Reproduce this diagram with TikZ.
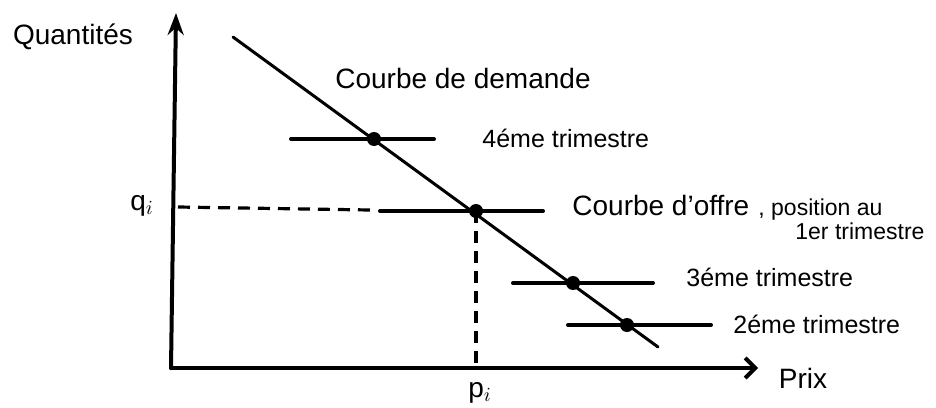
\documentclass[tikz,border=0pt]{standalone}
\usepackage{fontspec}
\setmainfont{Liberation Sans}
\usetikzlibrary{arrows.meta}
\tikzset{
  axis/.style={line width=2pt,line cap=round},
  offre/.style={line width=2pt,line cap=round},
  demande/.style={line width=1.5pt,line cap=round},
  guide/.style={line width=1.6pt,dash pattern=on 6pt off 4pt},
  bigtxt/.style={font=\fontsize{14}{16}\selectfont,inner sep=0pt},
  trimtxt/.style={font=\fontsize{12.5}{14}\selectfont,inner sep=0pt,anchor=west},
  smalltxt/.style={font=\fontsize{11.5}{13}\selectfont,inner sep=0pt,anchor=west},
}
\begin{document}
\begin{tikzpicture}[x=.5pt,y=-.5pt]
\useasboundingbox (0,0) rectangle (936,407);
% axes
\coordinate (O) at (171,368);
\coordinate (ytop) at (176,13);
\coordinate (xend) at (758,368);
\draw[axis,-{Stealth[length=11pt,width=8pt]}] (O) -- (ytop);
\draw[axis,-{Straight Barb[length=5pt,width=10pt]}] (O) -- (xend);
% demand curve
\coordinate (dtop) at (233,37);
\coordinate (dbot) at (658,347);
\draw[demande] (dtop) -- (dbot);
% supply positions, one per quarter
\coordinate (e4) at (374,139);
\coordinate (e1) at (476,211);
\coordinate (e3) at (573,283);
\coordinate (e2) at (627,325);
\draw[offre] (291,139) -- (434,139);
\draw[offre] (380,211) -- (543,211);
\draw[offre] (513,283) -- (653,283);
\draw[offre] (568,325) -- (711,325);
\foreach \p in {e4,e1,e3,e2}
  \fill (\p) circle[radius=3.5pt];
% equilibrium guides
\coordinate (qi) at (178,207);
\coordinate (qend) at (370,210);
\coordinate (pi) at (476,368);
\draw[guide] (qi) -- (qend);
\draw[guide] (e1) -- (pi);
% labels
\node[bigtxt] (quant) at (73,37) {Quantités};
\node[bigtxt] (qlab) at (142,206) {q$_i$};
\node[bigtxt] (plab) at (480,393) {p$_i$};
\node[bigtxt] (prix) at (803,378) {Prix};
\node[bigtxt] (dem) at (463,78) {Courbe de demande};
\node[bigtxt,anchor=west] (off) at (572,205) {Courbe d'offre};
\node[smalltxt] (pos) at (758,210) {, position au};
\node[smalltxt] (t1) at (795,231) {1er trimestre};
\node[trimtxt] (t4) at (482,138) {4éme trimestre};
\node[trimtxt] (t3) at (686,277) {3éme trimestre};
\node[trimtxt] (t2) at (733,324) {2éme trimestre};
\end{tikzpicture}
\end{document}
